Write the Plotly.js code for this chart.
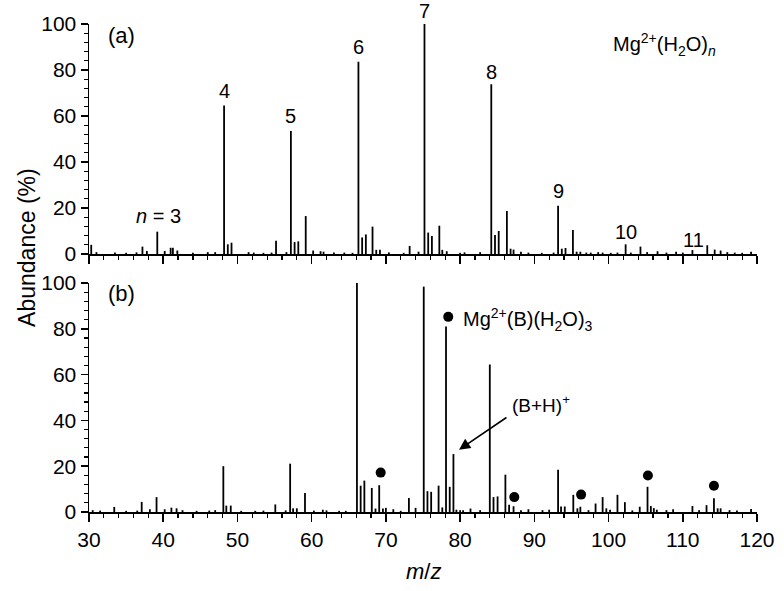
<!DOCTYPE html>
<html><head><meta charset="utf-8">
<script src="https://cdn.plot.ly/plotly-3.0.1.min.js"></script>
<style>body{margin:0;background:#fff}</style>
</head><body><div id="chart" style="width:784px;height:591px"></div>
<script>
// Panel (a): Mg2+(H2O)n spectrum
const mzA = [30.3, 31, 33.5, 35, 36.4, 37.2, 37.8, 39.2, 40.2, 41.0, 41.3, 41.9, 44, 46, 47, 48.2, 48.7, 49.2, 51.5, 52.2, 53.5, 54.6, 55.2, 56.6, 57.2, 57.7, 58.2, 59.2, 60.2, 61.2, 61.6, 63, 64.4, 65.5, 66.3, 66.8, 67.3, 68.2, 68.7, 69.2, 70.4, 72.4, 73.2, 74.4, 75.2, 75.7, 76.2, 77.2, 77.6, 78.2, 80, 80.6, 82.7, 84.2, 84.7, 85.2, 86.3, 86.8, 87.2, 88.2, 89.2, 91, 92.6, 93.2, 93.7, 94.2, 95.2, 95.7, 96.2, 97, 97.6, 98.6, 99.2, 100.3, 101.2, 102.3, 103, 104.3, 105.2, 106.6, 107.8, 109.1, 110, 111.3, 113.3, 114.3, 115.1, 116, 117, 118, 119.2];
const abA = [4, 0.8, 0.6, 0.5, 0.7, 3.2, 1.3, 9.7, 1.3, 2.7, 2.7, 1.5, 0.5, 0.8, 0.8, 64.6, 4.2, 4.9, 0.8, 0.6, 0.5, 0.6, 5.8, 0.8, 53.5, 5.2, 5.5, 16.5, 1.5, 1.2, 1.0, 0.6, 0.6, 0.5, 83.6, 7.2, 8.5, 11.9, 1.8, 1.8, 0.7, 0.5, 3.5, 1.0, 100, 9.3, 7.8, 12.3, 1.8, 1.2, 0.5, 0.7, 0.8, 73.8, 8.3, 10, 18.7, 2.3, 1.9, 1.0, 0.6, 0.5, 0.6, 21, 2.3, 2.6, 10.4, 1.0, 1.0, 0.6, 0.6, 0.8, 0.6, 0.5, 0.6, 4.2, 0.6, 3.2, 0.8, 1.2, 0.6, 1.0, 0.6, 1.7, 3.8, 1.9, 1.5, 0.8, 0.6, 0.5, 1.0];

// Panel (b)
const mzB = [30.5, 31.5, 33.4, 35, 36.5, 37.1, 38.2, 39.1, 40.2, 41.1, 41.8, 42.6, 44.5, 46.2, 47, 48.1, 48.5, 49.1, 50.5, 52.4, 53.5, 55.1, 56.5, 57.1, 57.5, 58.0, 59.1, 60.3, 61.5, 62, 63.7, 64.6, 66.1, 66.6, 67.1, 68.1, 68.6, 69.1, 69.6, 70.0, 71, 72, 73.1, 74.0, 75.1, 75.6, 76.1, 77.1, 77.6, 78.1, 78.6, 79.1, 79.5, 80, 80.4, 81.4, 82.7, 84.0, 84.5, 85.05, 86.1, 86.6, 87.2, 88.2, 89.2, 91.1, 92.0, 93.2, 93.6, 94.1, 95.25, 95.8, 96.2, 97.3, 98.25, 99.2, 99.7, 100.2, 101.2, 102.2, 103.2, 104.2, 105.25, 105.7, 106.1, 106.5, 107.8, 108.7, 111.3, 112.2, 113.2, 114.2, 114.7, 115.1, 116.3, 117.3, 119.2];
const abB = [0.8, 0.6, 2.2, 0.5, 0.6, 4.4, 1.2, 6.5, 1.2, 1.9, 1.6, 0.8, 0.5, 0.6, 0.8, 20, 2.8, 2.8, 0.5, 0.5, 0.6, 3.3, 0.7, 21.1, 1.6, 1.6, 8.3, 0.6, 1.0, 0.7, 0.5, 0.5, 100, 11.5, 13.7, 10.5, 1.5, 11.7, 1.5, 1.8, 1.2, 0.5, 6.1, 1.8, 98.4, 9.1, 8.8, 11.5, 2, 81, 11, 25.3, 1.0, 0.8, 0.8, 1.5, 0.8, 64.4, 6.5, 6.8, 16.3, 3.2, 2.5, 0.8, 1.2, 0.8, 1.0, 18.5, 2.4, 2.4, 7.5, 1.6, 2.3, 0.8, 3.7, 6.5, 1.6, 1.0, 7.5, 4.3, 0.7, 2.3, 11, 2.6, 1.7, 1.0, 0.8, 1.2, 2.6, 0.8, 3.0, 6.0, 1.6, 1.6, 0.8, 0.7, 1.3];

// Mg2+(B)(H2O)n dot markers in panel (b)
const dotMz = [69.3, 78.4, 87.3, 96.3, 105.3, 114.2];
const dotAb = [17.2, 85.2, 6.5, 7.6, 15.9, 11.5];

// cluster size labels in panel (a)
const nLabels = ['<i>n</i> = 3', '4', '5', '6', '7', '8', '9', '10', '11'];
const nLabelMz = [39.4, 48.2, 57.2, 66.3, 75.2, 84.2, 93.2, 102.4, 111.4];
const nLabelAb = [16.5, 70.8, 59.8, 89.8, 100, 79.2, 27.2, 9.7, 6.1];

function sticks(mz, ab) {
  const x = [], y = [];
  mz.forEach((m, i) => { x.push(m, m, null); y.push(0, ab[i], null); });
  return {x, y};
}
const sA = sticks(mzA, abA), sB = sticks(mzB, abB);
const FONT = 'Liberation Sans, Arial, Helvetica, sans-serif';

const traces = [
  {x: sA.x, y: sA.y, xaxis: 'x2', yaxis: 'y2', mode: 'lines', line: {color: '#000', width: 1.8}, hoverinfo: 'skip', showlegend: false},
  {x: sB.x, y: sB.y, xaxis: 'x', yaxis: 'y', mode: 'lines', line: {color: '#000', width: 1.8}, hoverinfo: 'skip', showlegend: false},
  {x: dotMz, y: dotAb, xaxis: 'x', yaxis: 'y', mode: 'markers', marker: {color: '#000', size: 10}, hoverinfo: 'skip', showlegend: false, cliponaxis: false}
];

const xCommon = {
  range: [30, 120], tick0: 30, dtick: 10, ticks: 'outside', ticklen: 8, tickwidth: 1.5, tickcolor: '#000',
  minor: {dtick: 2, tick0: 30, ticks: 'outside', ticklen: 4, tickwidth: 1.2, tickcolor: '#000'},
  showline: true, linewidth: 2, linecolor: '#000', showgrid: false, zeroline: false,
  tickfont: {family: FONT, size: 21, color: '#000'}
};
const yCommon = {
  range: [0, 100], tick0: 0, dtick: 20, ticks: 'outside', ticklen: 7, tickwidth: 1.5, tickcolor: '#000',
  minor: {dtick: 4, ticks: 'outside', ticklen: 4, tickwidth: 1.2, tickcolor: '#000'},
  showline: true, linewidth: 1.5, linecolor: '#000', showgrid: false, zeroline: false,
  tickfont: {family: FONT, size: 21, color: '#000'}
};

const ann = [];
nLabels.forEach((t, i) => {
  const a = {xref: 'x2', yref: 'y2', x: nLabelMz[i], y: nLabelAb[i], text: t, showarrow: false,
    font: {family: FONT, size: 20, color: '#000'}, xanchor: 'center', yanchor: 'middle'};
  if (t === '7') { a.yanchor = 'bottom'; a.yshift = 0; }
  ann.push(a);
});
ann.push(
  {xref: 'x2', yref: 'y2', x: 32.3, y: 94.8, text: '(a)', showarrow: false, xanchor: 'left', yanchor: 'middle', font: {family: FONT, size: 22, color: '#000'}},
  {xref: 'x2', yref: 'y2', x: 100.3, y: 90.9, text: 'Mg<sup>2+</sup>(H<sub>2</sub>O)<sub><i>n</i></sub>', showarrow: false, xanchor: 'left', yanchor: 'middle', font: {family: FONT, size: 20, color: '#000'}},
  {xref: 'x', yref: 'y', x: 32.3, y: 95.2, text: '(b)', showarrow: false, xanchor: 'left', yanchor: 'middle', font: {family: FONT, size: 22, color: '#000'}},
  {xref: 'x', yref: 'y', x: 80.1, y: 84, text: 'Mg<sup>2+</sup>(B)(H<sub>2</sub>O)<sub>3</sub>', showarrow: false, xanchor: 'left', yanchor: 'middle', font: {family: FONT, size: 20, color: '#000'}},
  {xref: 'x', yref: 'y', x: 86.7, y: 47.3, text: '(B+H)<sup>+</sup>', showarrow: false, xanchor: 'left', yanchor: 'middle', font: {family: FONT, size: 19, color: '#000'}},
  {xref: 'x', yref: 'y', axref: 'x', ayref: 'y', x: 79.85, y: 27.2, ax: 86.45, ay: 41.7, text: '', showarrow: true,
    arrowhead: 2, arrowsize: 1.4, arrowwidth: 1.6, arrowcolor: '#000', standoff: 0, startstandoff: 0},
  {xref: 'paper', yref: 'paper', x: -0.093, y: 0.543, text: 'Abundance (%)', textangle: -90, showarrow: false, xanchor: 'center', yanchor: 'middle', font: {family: FONT, size: 23, color: '#000'}},
  {xref: 'paper', yref: 'paper', x: 0.5, y: -0.121, text: '<i>m</i>/<i>z</i>', showarrow: false, xanchor: 'center', yanchor: 'middle', font: {family: FONT, size: 22, color: '#000'}}
);

const layout = {
  width: 784, height: 591,
  margin: {l: 89, r: 27, t: 24, b: 79},
  paper_bgcolor: '#fff', plot_bgcolor: '#fff',
  showlegend: false,
  xaxis: Object.assign({}, xCommon, {anchor: 'y'}),
  xaxis2: Object.assign({}, xCommon, {anchor: 'y2', matches: 'x', showticklabels: false}),
  yaxis: Object.assign({}, yCommon, {domain: [0, 0.4693], anchor: 'x'}),
  yaxis2: Object.assign({}, yCommon, {domain: [0.5287, 1], anchor: 'x2'}),
  annotations: ann
};

Plotly.newPlot('chart', traces, layout, {staticPlot: true, displayModeBar: false});
</script></body></html>
